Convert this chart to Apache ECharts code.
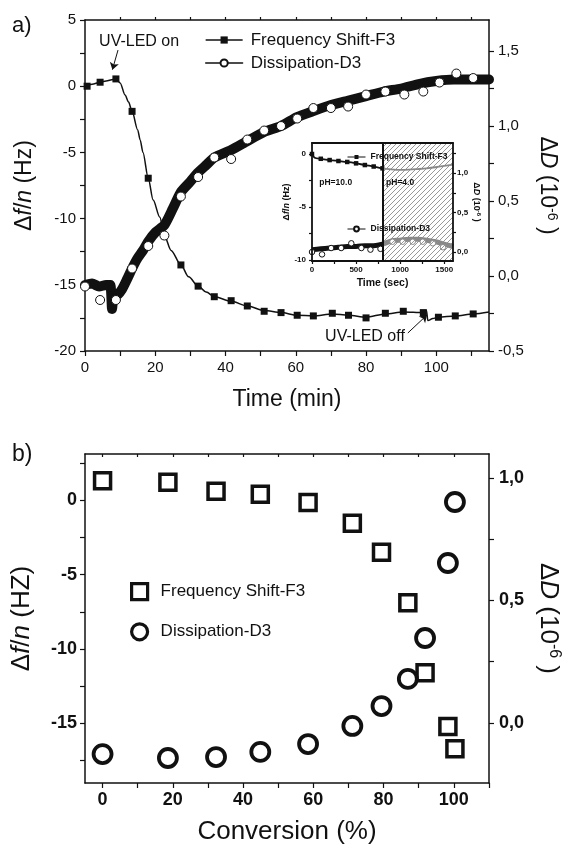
<!DOCTYPE html>
<html>
<head>
<meta charset="utf-8">
<script src="https://cdn.jsdelivr.net/npm/echarts@6/dist/echarts.min.js"></script>
<style>
  html, body { margin: 0; padding: 0; background: #fff; }
  #chart { width: 573px; height: 848px; }
</style>
</head>
<body>
<div id="chart"></div>
<script>
// ---------- (a) QCM-D response versus time ----------
// Frequency shift (3rd overtone), Hz
const freqLineT = [0, 2, 4.3, 6, 8, 8.8, 10, 11.4, 12.4, 13.4, 15, 15.7, 16.5, 18, 19.4, 21.3, 22.6, 24.5, 27.3, 29.5, 32.2, 34.5, 36.8, 41.6, 46.2, 51, 55.8, 60.4, 65, 70.4, 75, 80, 85.5, 90.6, 96.3, 97.2, 97.6, 99, 100.6, 105.4, 110.5, 115];
const freqLineV = [0.0, 0.15, 0.3, 0.4, 0.5, 0.55, 0.25, -0.66, -1.2, -1.9, -3.3, -4.06, -5.0, -6.95, -8.6, -9.9, -11.3, -12.4, -13.5, -14.4, -15.1, -15.55, -15.9, -16.25, -16.6, -16.95, -17.1, -17.3, -17.35, -17.2, -17.3, -17.45, -17.2, -17.05, -17.1, -16.95, -17.7, -17.55, -17.45, -17.35, -17.2, -17.05];
const freqMarkT = [0.6, 4.3, 8.8, 13.4, 18, 22.6, 27.3, 32.2, 36.8, 41.6, 46.2, 51, 55.8, 60.4, 65, 70.4, 75, 80, 85.5, 90.6, 96.3, 100.6, 105.4, 110.5];
const freqMarkV = [0.0, 0.3, 0.55, -1.9, -6.95, -11.3, -13.5, -15.1, -15.9, -16.2, -16.6, -17.0, -17.1, -17.3, -17.35, -17.15, -17.3, -17.5, -17.15, -17.0, -17.1, -17.45, -17.35, -17.2];
// Dissipation (3rd overtone), 1e-6
const dissLineT = [0, 2, 4, 6, 7.2, 7.7, 8.2, 9, 10.5, 12, 13.4, 15, 16.5, 18, 20, 22.6, 25, 27.3, 30, 32.2, 34.5, 36.8, 41.6, 46.2, 51, 55.8, 60.4, 65, 70, 75, 80, 85, 90, 95, 100, 105, 110, 115];
const dissLineV = [-0.06, -0.05, -0.07, -0.06, -0.06, -0.22, -0.13, -0.13, -0.09, -0.02, 0.05, 0.12, 0.17, 0.23, 0.29, 0.34, 0.45, 0.56, 0.63, 0.69, 0.74, 0.79, 0.84, 0.9, 0.96, 1.0, 1.06, 1.1, 1.14, 1.17, 1.2, 1.23, 1.25, 1.28, 1.3, 1.31, 1.31, 1.31];
const dissMarkT = [0, 4.3, 8.8, 13.4, 18, 22.6, 27.3, 32.2, 36.8, 41.6, 46.2, 51, 55.8, 60.4, 65, 70, 74.9, 80, 85.5, 90.9, 96.3, 100.9, 105.7, 110.5];
const dissMarkV = [-0.07, -0.16, -0.16, 0.05, 0.2, 0.27, 0.53, 0.66, 0.79, 0.78, 0.91, 0.97, 1.0, 1.05, 1.12, 1.12, 1.13, 1.21, 1.23, 1.21, 1.23, 1.29, 1.35, 1.32];

// Inset: pH switch experiment, time in seconds
const insetFreqT = [0, 30, 100, 200, 300, 400, 500, 600, 700, 800, 900, 1000, 1100, 1200, 1300, 1400, 1500, 1600];
const insetFreqV = [0.0, -0.35, -0.45, -0.57, -0.66, -0.75, -0.88, -1.04, -1.18, -1.35, -1.45, -1.5, -1.48, -1.42, -1.35, -1.25, -1.12, -1.0];
const insetFreqMarkT = [0, 100, 200, 300, 400, 500, 600, 700, 800];
const insetFreqMarkV = [0.0, -0.45, -0.57, -0.66, -0.75, -0.88, -1.04, -1.18, -1.35];
const insetDissT = [0, 100, 200, 300, 400, 500, 600, 700, 800, 900, 1000, 1100, 1200, 1300, 1400, 1500, 1600];
const insetDissV = [0.03, 0.04, 0.05, 0.06, 0.07, 0.07, 0.08, 0.08, 0.1, 0.14, 0.15, 0.16, 0.16, 0.15, 0.13, 0.1, 0.07];
const insetDissMarkT = [0, 114, 217, 331, 446, 560, 663, 777, 914, 1029, 1143, 1257, 1371, 1486];
const insetDissMarkV = [0.0, -0.03, 0.05, 0.05, 0.11, 0.05, 0.03, 0.04, 0.13, 0.13, 0.13, 0.13, 0.11, 0.06];
const pHSwitchTime = 800;
const insetEndTime = 1600;

// ---------- (b) response versus conversion ----------
const conversion = [0, 18.6, 32.3, 44.9, 58.5, 71.1, 79.4, 86.9, 91.8, 98.3, 100.3];
const convFreq = [1.3, 1.2, 0.6, 0.4, -0.15, -1.55, -3.5, -6.9, -11.6, -15.2, -16.7];
const convDiss = [-0.127, -0.143, -0.139, -0.118, -0.086, -0.012, 0.069, 0.18, 0.347, 0.653, 0.902];

// Tick label values
const timeLabels = [0, 20, 40, 60, 80, 100];
const freqLabelsA = [-20, -15, -10, -5, 0, 5];
const dissLabelsA = [-0.5, 0, 0.5, 1.0, 1.5];
const insetTimeLabels = [0, 500, 1000, 1500];
const insetFreqLabels = [-10, -5, 0];
const insetDissLabels = [0, 0.5, 1.0];
const convLabels = [0, 20, 40, 60, 80, 100];
const freqLabelsB = [-15, -10, -5, 0];
const dissLabelsB = [0, 0.5, 1.0];

const legendText = {
  freqTime: 'Frequency Shift-F3', dissTime: 'Dissipation-D3',
  freqInset: 'Frequency Shift-F3', dissInset: 'Dissipation-D3',
  freqConv: 'Frequency Shift-F3', dissConv: 'Dissipation-D3'
};

const zip = (xs, ys) => xs.map((x, i) => [x, ys[i]]);
const steps = (a, b, s) => { const r = []; for (let v = a; v <= b + 1e-9; v += s) r.push(Math.round(v * 1000) / 1000); return r; };
const comma = v => v.toFixed(1).replace('.', ',');
const plain = v => String(v);

const FONT = '"Liberation Sans", Arial, Helvetica, sans-serif';
const INK = '#111';

// diagonal hatch used for the pH 4.0 period of the inset
const hatch = document.createElement('canvas');
hatch.width = 5; hatch.height = 5;
(function () {
  const g = hatch.getContext('2d');
  g.fillStyle = 'rgba(255,255,255,0.5)';
  g.fillRect(0, 0, 5, 5);
  g.strokeStyle = '#8c8c8c';
  g.lineWidth = 0.9;
  g.beginPath();
  g.moveTo(0, 5); g.lineTo(5, 0);
  g.moveTo(-1, 1); g.lineTo(1, -1);
  g.moveTo(4, 6); g.lineTo(6, 4);
  g.stroke();
})();

function axisBase(extra) {
  return Object.assign({
    type: 'value',
    splitLine: { show: false },
    axisLine: { show: true, onZero: false, lineStyle: { color: INK, width: 1.5 } },
    axisTick: { show: true, length: 5, lineStyle: { color: INK, width: 1.2 } },
    axisLabel: { color: INK, fontFamily: FONT },
    nameTextStyle: { color: INK, fontFamily: FONT }
  }, extra);
}
function tickStyle(values, len, inside) {
  return { show: true, customValues: values, length: len, inside: !!inside, lineStyle: { color: INK, width: 1.2 } };
}
function richName(size, weight) {
  const base = { fontSize: size, fontFamily: FONT, color: INK, fontWeight: weight };
  return {
    n: base,
    i: Object.assign({}, base, { fontStyle: 'italic' }),
    s: Object.assign({}, base, { fontSize: Math.round(size * 0.62), verticalAlign: 'top', padding: [0, 0, Math.round(size * 0.45), 0] })
  };
}
const nameDf = u => '{n|Δ}{i|f}{n|/}{i|n}{n| (' + u + ')}';
const nameDD = '{n|Δ}{i|D}{n| (10}{s|-6}{n| )}';

const chart = echarts.init(document.getElementById('chart'), null, { renderer: 'canvas' });

const option = {
  animation: false,
  backgroundColor: '#fff',
  textStyle: { fontFamily: FONT },
  grid: [
    { left: 85, top: 20, width: 404, height: 331, outerBoundsMode: 'none' },
    { left: 312, top: 143, width: 141, height: 118, show: true, backgroundColor: '#fff', borderWidth: 0, outerBoundsMode: 'none' },
    { left: 85, top: 454, width: 404, height: 329, outerBoundsMode: 'none' }
  ],
  xAxis: [
    axisBase({
      gridIndex: 0, min: 0, max: 115, position: 'bottom',
      axisTick: tickStyle(steps(0, 110, 10), 5),
      axisLabel: { customValues: timeLabels, fontSize: 15, margin: 9, color: INK, fontFamily: FONT },
      name: 'Time (min)', nameLocation: 'middle', nameGap: 37,
      nameTextStyle: { fontSize: 23, color: INK, fontFamily: FONT }
    }),
    axisBase({
      gridIndex: 0, min: 0, max: 115, position: 'top',
      axisTick: tickStyle(steps(10, 110, 10), 3),
      axisLabel: { show: false }
    }),
    axisBase({
      gridIndex: 1, min: 0, max: insetEndTime, position: 'bottom', z: 12,
      axisLine: { show: true, onZero: false, lineStyle: { color: INK, width: 1.8 } },
      axisTick: tickStyle(steps(0, 1500, 250), 3),
      axisLabel: { customValues: insetTimeLabels, formatter: plain, fontSize: 8, fontWeight: 'bold', margin: 5, color: INK, fontFamily: FONT },
      name: 'Time (sec)', nameLocation: 'middle', nameGap: 17,
      nameTextStyle: { fontSize: 10.5, fontWeight: 'bold', color: INK, fontFamily: FONT }
    }),
    axisBase({
      gridIndex: 1, min: 0, max: insetEndTime, position: 'top', z: 12,
      axisLine: { show: true, onZero: false, lineStyle: { color: INK, width: 1.8 } },
      axisTick: { show: false }, axisLabel: { show: false }
    }),
    axisBase({
      gridIndex: 2, min: -5, max: 110, position: 'bottom',
      axisTick: tickStyle(steps(0, 110, 10), 5),
      axisLabel: { customValues: convLabels, fontSize: 18, fontWeight: 'bold', margin: 8, color: INK, fontFamily: FONT },
      name: 'Conversion (%)', nameLocation: 'middle', nameGap: 36,
      nameTextStyle: { fontSize: 26, color: INK, fontFamily: FONT }
    }),
    axisBase({
      gridIndex: 2, min: -5, max: 110, position: 'top',
      axisTick: tickStyle(steps(0, 100, 10), 3, true),
      axisLabel: { show: false }
    })
  ],
  yAxis: [
    axisBase({
      gridIndex: 0, min: -20, max: 5, position: 'left',
      axisTick: tickStyle(steps(-20, 5, 2.5), 5),
      axisLabel: { customValues: freqLabelsA, fontSize: 15, margin: 9, color: INK, fontFamily: FONT },
      name: nameDf('Hz'), nameLocation: 'middle', nameRotate: 90, nameGap: 49,
      nameTextStyle: { rich: richName(23, 'normal') }
    }),
    axisBase({
      gridIndex: 0, min: -0.5, max: 1.707, position: 'right',
      axisTick: tickStyle(steps(-0.5, 1.5, 0.25), 5),
      axisLabel: { customValues: dissLabelsA, formatter: comma, fontSize: 15, margin: 9, color: INK, fontFamily: FONT },
      name: nameDD, nameLocation: 'middle', nameRotate: -90, nameGap: 46,
      nameTextStyle: { rich: richName(23, 'normal') }
    }),
    axisBase({
      gridIndex: 1, min: -10.1, max: 1.04, position: 'left', z: 12,
      axisLine: { show: true, onZero: false, lineStyle: { color: INK, width: 1.8 } },
      axisTick: tickStyle(steps(-10, 0, 2.5), 3),
      axisLabel: { customValues: insetFreqLabels, formatter: plain, fontSize: 8, fontWeight: 'bold', margin: 6, color: INK, fontFamily: FONT },
      name: nameDf('Hz'), nameLocation: 'middle', nameRotate: 90, nameGap: 16,
      nameTextStyle: { rich: richName(9, 'bold') }
    }),
    axisBase({
      gridIndex: 1, min: -0.114, max: 1.38, position: 'right', z: 12,
      axisLine: { show: true, onZero: false, lineStyle: { color: INK, width: 1.8 } },
      axisTick: tickStyle(steps(0, 1.25, 0.25), 3),
      axisLabel: { customValues: insetDissLabels, formatter: comma, fontSize: 8, fontWeight: 'bold', margin: 4, color: INK, fontFamily: FONT },
      name: nameDD, nameLocation: 'middle', nameRotate: -90, nameGap: 17,
      nameTextStyle: { rich: richName(9, 'bold') }
    }),
    axisBase({
      gridIndex: 2, min: -19, max: 3.1, position: 'left',
      axisTick: tickStyle(steps(-17.5, 2.5, 2.5), 5),
      axisLabel: { customValues: freqLabelsB, fontSize: 18, fontWeight: 'bold', margin: 8, color: INK, fontFamily: FONT },
      name: nameDf('HZ'), nameLocation: 'middle', nameRotate: 90, nameGap: 50,
      nameTextStyle: { rich: richName(26, 'normal') }
    }),
    axisBase({
      gridIndex: 2, min: -0.245, max: 1.098, position: 'right',
      axisTick: tickStyle(steps(0, 1, 0.25), 5),
      axisLabel: { customValues: dissLabelsB, formatter: comma, fontSize: 18, fontWeight: 'bold', margin: 10, color: INK, fontFamily: FONT },
      name: nameDD, nameLocation: 'middle', nameRotate: -90, nameGap: 45,
      nameTextStyle: { rich: richName(26, 'normal') }
    })
  ],
  legend: [
    {
      data: ['freqTime', 'dissTime'], formatter: n => legendText[n], z: 20,
      orient: 'vertical', left: 200, top: 26, itemWidth: 37, itemHeight: 9, itemGap: 5,
      selectedMode: false, lineStyle: { width: 1.3 },
      textStyle: { fontSize: 17, color: INK, fontFamily: FONT, lineHeight: 18, padding: [0, 0, 0, 3] }
    },
    {
      data: ['freqInset'], formatter: n => legendText[n], z: 20,
      left: 342, top: 147, itemWidth: 18, itemHeight: 5, selectedMode: false, lineStyle: { width: 1 },
      textStyle: { fontSize: 8.5, fontWeight: 'bold', color: INK, fontFamily: FONT, lineHeight: 10 }
    },
    {
      data: ['dissInset'], formatter: n => legendText[n], z: 20,
      left: 342, top: 219, itemWidth: 18, itemHeight: 6, selectedMode: false, lineStyle: { width: 1 },
      textStyle: { fontSize: 8.5, fontWeight: 'bold', color: INK, fontFamily: FONT, lineHeight: 10 }
    },
    {
      data: ['freqConv', 'dissConv'], formatter: n => legendText[n], z: 20,
      orient: 'vertical', left: 125, top: 577, itemWidth: 16, itemHeight: 16, itemGap: 21,
      selectedMode: false,
      itemStyle: { color: 'rgba(0,0,0,0)', borderColor: INK, borderWidth: 3.2, opacity: 1 },
      textStyle: { fontSize: 17, color: INK, fontFamily: FONT, lineHeight: 18, padding: [0, 0, 0, 8] }
    }
  ],
  graphic: [
    { type: 'text', left: 12, top: 15, style: { text: 'a)', fontSize: 22, fill: INK, fontFamily: FONT } },
    { type: 'text', left: 12, top: 443, style: { text: 'b)', fontSize: 23, fill: INK, fontFamily: FONT } }
  ],
  series: [
    {
      name: 'freqTime', type: 'line', xAxisIndex: 0, yAxisIndex: 0, silent: true,
      data: zip(freqLineT, freqLineV), smooth: 0.3, smoothMonotone: 'x',
      symbol: 'rect', showSymbol: false, color: INK,
      lineStyle: { color: INK, width: 1.5 },
      markLine: {
        silent: true, symbol: ['none', 'arrow'], symbolSize: 7,
        lineStyle: { color: INK, width: 1, type: 'solid' }, label: { show: false },
        data: [
          [{ coord: [9.4, 2.73] }, { coord: [7.8, 1.25] }],
          [{ coord: [91.9, -18.64] }, { coord: [97.35, -17.28] }]
        ]
      },
      markPoint: {
        silent: true, symbol: 'rect', symbolSize: 1, itemStyle: { color: 'rgba(0,0,0,0)' },
        label: { show: true, position: 'inside', formatter: p => p.name, fontSize: 16, color: INK, fontFamily: FONT },
        data: [
          { name: 'UV-LED on', coord: [15.4, 3.4] },
          { name: 'UV-LED off', coord: [79.7, -18.94] }
        ]
      }
    },
    {
      name: 'freqTimeMarks', type: 'scatter', xAxisIndex: 0, yAxisIndex: 0, silent: true, z: 4,
      data: zip(freqMarkT, freqMarkV), symbol: 'rect', symbolSize: 7,
      itemStyle: { color: INK, opacity: 1 }
    },
    {
      name: 'dissTime', type: 'line', xAxisIndex: 0, yAxisIndex: 1, silent: true,
      data: zip(dissLineT, dissLineV), smooth: 0.2,
      symbol: 'circle', showSymbol: false,
      itemStyle: { color: '#fff', borderColor: INK, borderWidth: 1 },
      lineStyle: { color: INK, width: 10, cap: 'round', join: 'round' }
    },
    {
      name: 'dissTimeMarks', type: 'scatter', xAxisIndex: 0, yAxisIndex: 1, silent: true, z: 4,
      data: zip(dissMarkT, dissMarkV), symbol: 'circle', symbolSize: 9,
      itemStyle: { color: '#fff', borderColor: INK, borderWidth: 1, opacity: 1 }
    },
    {
      name: 'freqInset', type: 'line', xAxisIndex: 2, yAxisIndex: 2, silent: true,
      data: zip(insetFreqT, insetFreqV), smooth: 0.3,
      symbol: 'rect', showSymbol: false, color: INK,
      lineStyle: { color: INK, width: 1.8 }
    },
    {
      name: 'freqInsetMarks', type: 'scatter', xAxisIndex: 2, yAxisIndex: 2, silent: true,
      data: zip(insetFreqMarkT, insetFreqMarkV), symbol: 'rect', symbolSize: 4.5,
      itemStyle: { color: INK, opacity: 1 }
    },
    {
      name: 'dissInset', type: 'line', xAxisIndex: 2, yAxisIndex: 3, silent: true,
      data: zip(insetDissT, insetDissV), smooth: 0.3,
      symbol: 'circle', showSymbol: false,
      itemStyle: { color: '#fff', borderColor: INK, borderWidth: 1 },
      lineStyle: { color: INK, width: 5 }
    },
    {
      name: 'dissInsetMarks', type: 'scatter', xAxisIndex: 2, yAxisIndex: 3, silent: true, z: 4,
      data: zip(insetDissMarkT, insetDissMarkV), symbol: 'circle', symbolSize: 5.5,
      itemStyle: { color: '#fff', borderColor: INK, borderWidth: 1, opacity: 1 }
    },
    {
      name: 'pHPeriods', type: 'line', xAxisIndex: 2, yAxisIndex: 2, silent: true, z: 10,
      data: [],
      markArea: {
        silent: true, z: 10,
        itemStyle: { color: { image: hatch, repeat: 'repeat' }, borderWidth: 0 },
        data: [[{ xAxis: pHSwitchTime }, { xAxis: insetEndTime }]]
      },
      markLine: {
        silent: true, z: 11, symbol: 'none', label: { show: false },
        lineStyle: { color: INK, width: 2, type: 'solid' },
        data: [{ xAxis: pHSwitchTime }]
      },
      markPoint: {
        silent: true, z: 12, symbol: 'rect', symbolSize: 1, itemStyle: { color: 'rgba(0,0,0,0)' },
        label: { show: true, position: 'inside', formatter: p => p.name, fontSize: 8.5, fontWeight: 'bold', color: INK, fontFamily: FONT },
        data: [
          { name: 'pH=10.0', coord: [269, -2.74] },
          { name: 'pH=4.0', coord: [1000, -2.74] }
        ]
      }
    },
    {
      name: 'freqConv', type: 'scatter', xAxisIndex: 4, yAxisIndex: 4, silent: true,
      data: zip(conversion, convFreq), symbol: 'rect', symbolSize: 16,
      itemStyle: { color: 'rgba(0,0,0,0)', borderColor: INK, borderWidth: 3.5, opacity: 1 }
    },
    {
      name: 'dissConv', type: 'scatter', xAxisIndex: 4, yAxisIndex: 5, silent: true,
      data: zip(conversion, convDiss), symbol: 'circle', symbolSize: 18,
      itemStyle: { color: 'rgba(0,0,0,0)', borderColor: INK, borderWidth: 3.8, opacity: 1 }
    }
  ]
};

chart.setOption(option);
</script>
</body>
</html>
